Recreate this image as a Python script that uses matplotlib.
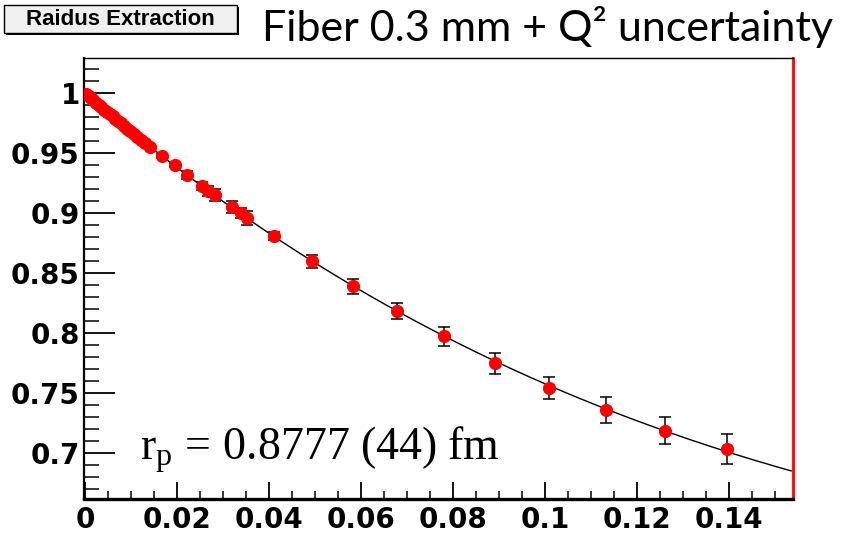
import numpy as np
import matplotlib
matplotlib.use("Agg")
import matplotlib.pyplot as plt
from matplotlib.ticker import MultipleLocator
from matplotlib.patches import Rectangle

# ---- data ----
q2 = [0.0003, 0.0008, 0.0013, 0.0018, 0.0024, 0.0030, 0.0036, 0.0042, 0.0048,
      0.0054, 0.0060, 0.0066, 0.0072, 0.0078, 0.0085, 0.0092, 0.0099, 0.0106,
      0.0114, 0.0122, 0.0131, 0.0141, 0.0167, 0.0196, 0.0221, 0.0254, 0.0268,
      0.0283, 0.0319, 0.0340, 0.0352, 0.0412, 0.0493, 0.0583, 0.0678, 0.0781,
      0.0892, 0.1008, 0.1132, 0.1260, 0.1396]
ge = [0.9990, 0.9974, 0.9957, 0.9941, 0.9921, 0.9901, 0.9882, 0.9862, 0.9843,
      0.9824, 0.9805, 0.9786, 0.9767, 0.9748, 0.9726, 0.9704, 0.9682, 0.9660,
      0.9635, 0.9610, 0.9583, 0.9552, 0.9475, 0.9400, 0.9317, 0.9228, 0.9186,
      0.9150, 0.9053, 0.8997, 0.8962, 0.8808, 0.8598, 0.8389, 0.8183, 0.7973,
      0.7748, 0.7544, 0.7358, 0.7186, 0.7036]
err = [0.0008, 0.0008, 0.0008, 0.0008, 0.0008, 0.0008, 0.0009, 0.0009, 0.0009,
       0.0009, 0.0010, 0.0010, 0.0010, 0.0010, 0.0011, 0.0011, 0.0011, 0.0012,
       0.0012, 0.0013, 0.0013, 0.0014, 0.0016, 0.0018, 0.0030, 0.0032, 0.0040,
       0.0050, 0.0050, 0.0042, 0.0058, 0.0030, 0.0056, 0.0061, 0.0065, 0.0081,
       0.0086, 0.0093, 0.0106, 0.0111, 0.0125]

xticks = [0, 0.02, 0.04, 0.06, 0.08, 0.10, 0.12, 0.14]
xtick_labels = ["0", "0.02", "0.04", "0.06", "0.08", "0.1", "0.12", "0.14"]
yticks = [0.70, 0.75, 0.80, 0.85, 0.90, 0.95, 1.00]
ytick_labels = ["0.7", "0.75", "0.8", "0.85", "0.9", "0.95", "1"]

title_box = "Raidus Extraction"
title_text = "Fiber 0.3 mm + Q\u00b2 uncertainty"
radius_text = r"$\mathrm{r_p}\,=\,0.8777\ (44)\ \mathrm{fm}$"

plt.rcParams['mathtext.fontset'] = 'custom'
plt.rcParams['mathtext.rm'] = 'Liberation Serif'
plt.rcParams['mathtext.it'] = 'Liberation Serif:italic'

W, H = 851, 534
fig = plt.figure(figsize=(W / 100, H / 100), dpi=100)
ax = fig.add_axes([84 / W, 1 - 499 / H, (793 - 84) / W, (499 - 58) / H])

# fit curve (cubic polynomial fitted to the points)
coef = np.polyfit(q2, ge, 3, w=1 / np.array(err))
xf = np.linspace(0, 0.1535, 200)
ax.plot(xf, np.polyval(coef, xf), color='black', lw=1.0, zorder=2)

ax.errorbar(q2, ge, yerr=err, fmt='o', color='red', ms=8.5, mec='red',
            ecolor='black', elinewidth=1.1, capsize=4, capthick=1.1, zorder=3)

ax.set_xlim(-0.0002, 0.1539)
ax.set_ylim(0.6617, 1.0292)

ax.set_xticks(xticks)
ax.set_xticklabels(xtick_labels)
ax.set_yticks(yticks)
ax.set_yticklabels(ytick_labels)
ax.xaxis.set_minor_locator(MultipleLocator(0.005))
ax.yaxis.set_minor_locator(MultipleLocator(0.01))
ax.tick_params(axis='x', which='major', direction='in', length=12, width=1.3, pad=5)
ax.tick_params(axis='x', which='minor', direction='in', length=6, width=1.1)
ax.tick_params(axis='y', which='major', direction='in', length=22, width=1.3, pad=3)
ax.tick_params(axis='y', which='minor', direction='in', length=11, width=1.1)
for lab in ax.get_xticklabels() + ax.get_yticklabels():
    lab.set_fontfamily('DejaVu Sans')
    lab.set_fontweight('bold')
    lab.set_fontsize(20)

ax.spines['left'].set_linewidth(1.6)
ax.spines['bottom'].set_linewidth(2.4)
ax.spines['top'].set_linewidth(1.0)
ax.spines['right'].set_color('red')
ax.spines['right'].set_linewidth(2.0)

# title box
shadow = Rectangle((6 / W, 1 - 35 / H), 233 / W, 28 / H, transform=fig.transFigure,
                   facecolor='black', edgecolor='none')
box = Rectangle((4 / W, 1 - 33 / H), 233 / W, 28 / H, transform=fig.transFigure,
                facecolor='#f0f0f0', edgecolor='black', lw=1.0)
fig.patches.extend([shadow, box])
fig.text(120 / W, 1 - 19.5 / H, title_box, ha='center', va='center',
         family='Liberation Sans', weight='bold', fontsize=16)

fig.text(262 / W, 1 - 41 / H, title_text, ha='left', va='baseline',
         family='Lato', fontsize=31)

fig.text(140 / W, 1 - 460 / H, radius_text, ha='left', va='baseline', fontsize=33)

fig.savefig('out.png', dpi=100)
